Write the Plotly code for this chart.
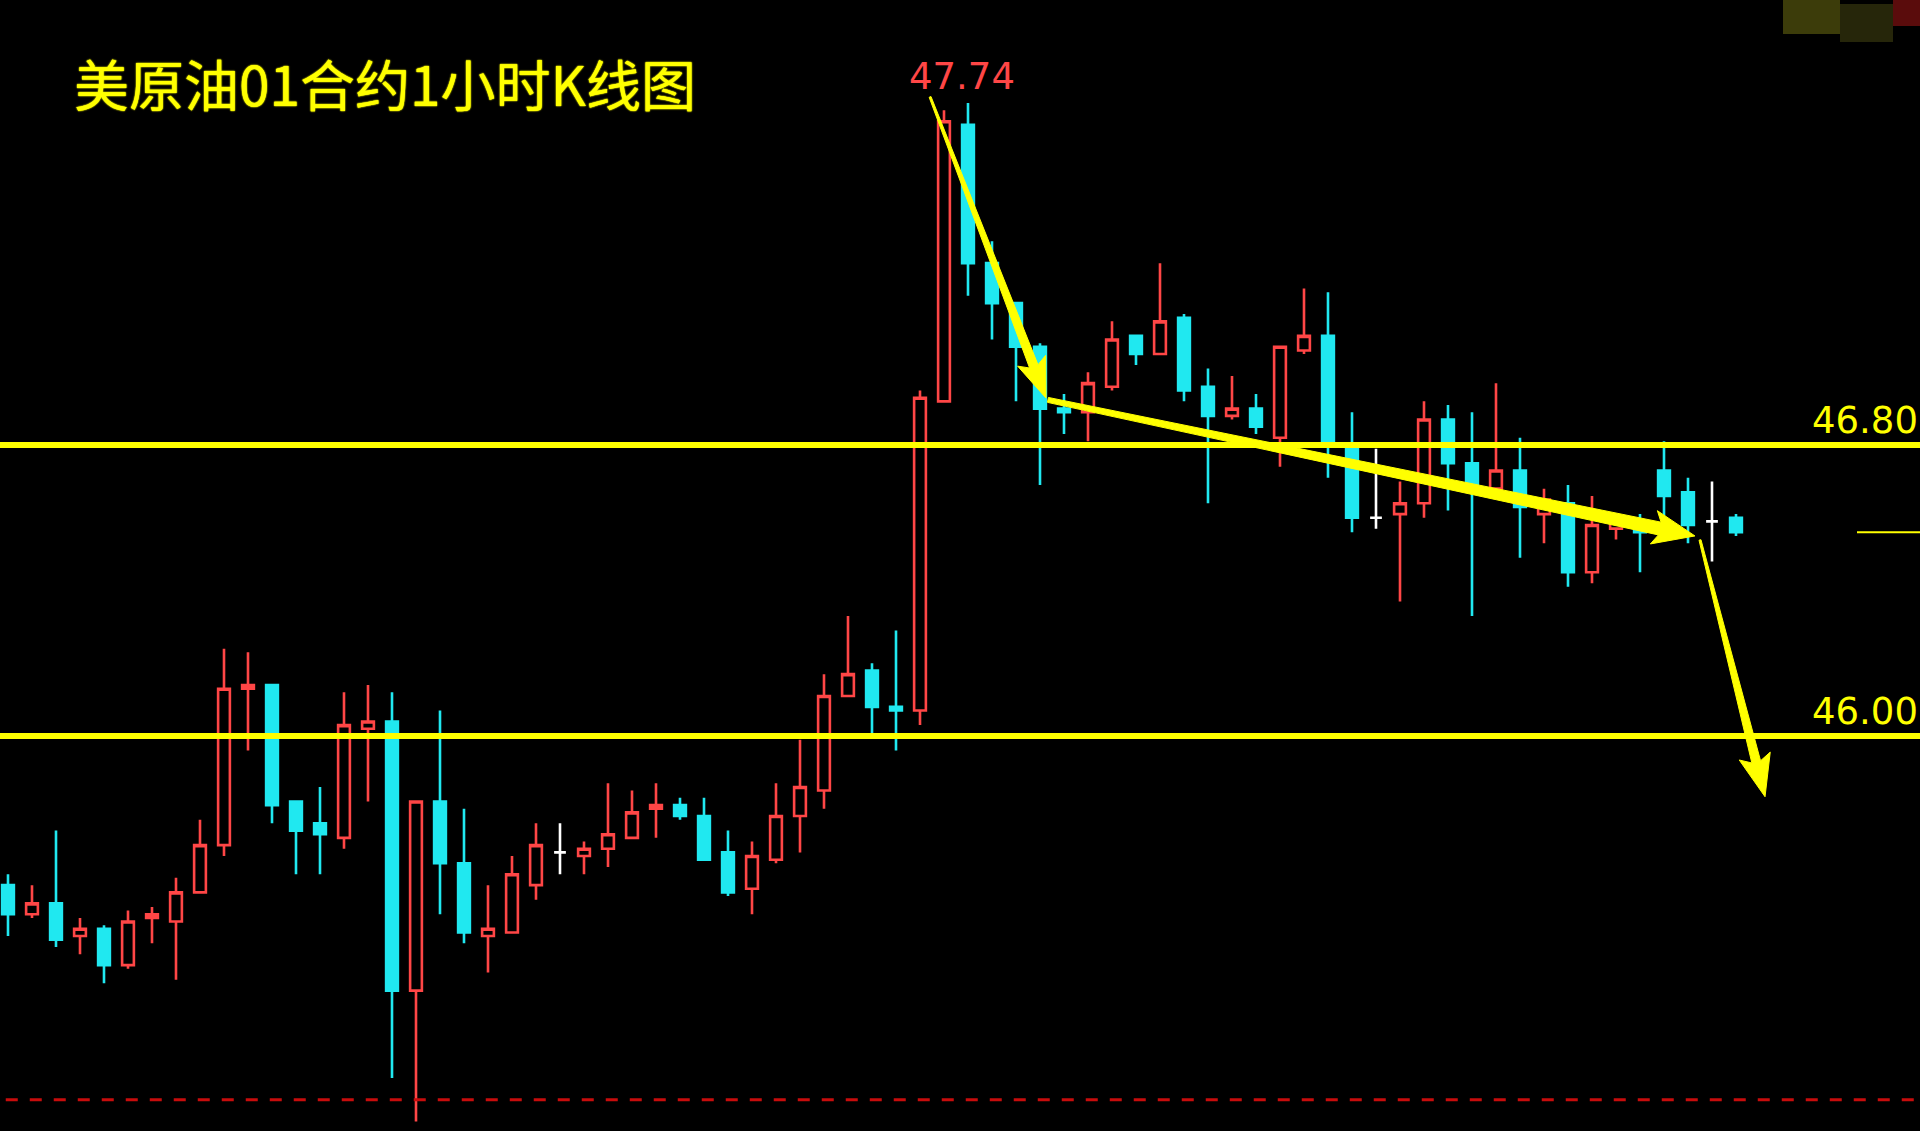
import math
import plotly.graph_objects as go

# ---- data ----
opens = [45.59, 45.51, 45.54, 45.45, 45.47, 45.37, 45.50, 45.49, 45.57, 45.70,
         46.13, 46.14, 45.82, 45.76, 45.72, 46.02, 46.04, 45.30, 45.82, 45.65,
         45.45, 45.46, 45.59, 45.68, 45.67, 45.69, 45.72, 45.80, 45.81, 45.78,
         45.68, 45.58, 45.66, 45.78, 45.85, 46.11, 46.18, 46.08, 46.07, 46.92,
         47.68, 47.30, 47.19, 47.07, 46.90, 46.89, 46.96, 47.10, 47.05, 47.15,
         46.96, 46.88, 46.90, 46.82, 47.06, 47.10, 46.80, 46.60, 46.61, 46.64,
         46.87, 46.75, 46.68, 46.73, 46.61, 46.64, 46.45, 46.57, 46.58, 46.73,
         46.67, 46.59, 46.60]
highs = [45.62, 45.59, 45.74, 45.50, 45.48, 45.52, 45.53, 45.61, 45.77, 46.24,
         46.23, 46.14, 45.82, 45.86, 46.12, 46.14, 46.12, 45.82, 46.07, 45.80,
         45.59, 45.67, 45.76, 45.76, 45.71, 45.87, 45.85, 45.87, 45.83, 45.83,
         45.74, 45.71, 45.87, 45.99, 46.17, 46.33, 46.20, 46.29, 46.95, 47.72,
         47.74, 47.36, 47.19, 47.08, 46.94, 47.00, 47.14, 47.10, 47.30, 47.16,
         47.01, 46.99, 46.94, 47.07, 47.23, 47.22, 46.89, 46.79, 46.70, 46.92,
         46.91, 46.89, 46.97, 46.82, 46.68, 46.69, 46.66, 46.61, 46.61, 46.81,
         46.71, 46.70, 46.61]
lows = [45.45, 45.50, 45.42, 45.40, 45.32, 45.36, 45.43, 45.33, 45.57, 45.67,
        45.96, 45.76, 45.62, 45.62, 45.69, 45.82, 45.06, 44.94, 45.51, 45.43,
        45.35, 45.46, 45.55, 45.62, 45.62, 45.64, 45.72, 45.72, 45.77, 45.66,
        45.56, 45.51, 45.65, 45.68, 45.80, 46.11, 46.00, 45.96, 46.03, 46.92,
        47.21, 47.09, 46.92, 46.69, 46.83, 46.81, 46.95, 47.02, 47.05, 46.92,
        46.64, 46.87, 46.83, 46.74, 47.05, 46.71, 46.56, 46.57, 46.37, 46.60,
        46.62, 46.33, 46.68, 46.49, 46.53, 46.41, 46.42, 46.54, 46.45, 46.58,
        46.53, 46.48, 46.55]
closes = [45.51, 45.54, 45.44, 45.47, 45.37, 45.49, 45.51, 45.57, 45.70, 46.13,
          46.14, 45.81, 45.74, 45.73, 46.03, 46.04, 45.30, 45.82, 45.65, 45.46,
          45.47, 45.62, 45.70, 45.68, 45.69, 45.73, 45.79, 45.81, 45.78, 45.66,
          45.57, 45.67, 45.78, 45.86, 46.11, 46.17, 46.08, 46.07, 46.93, 47.69,
          47.30, 47.19, 47.07, 46.90, 46.89, 46.97, 47.09, 47.05, 47.14, 46.95,
          46.88, 46.90, 46.85, 47.07, 47.10, 46.81, 46.60, 46.60, 46.64, 46.87,
          46.75, 46.68, 46.73, 46.63, 46.65, 46.45, 46.58, 46.59, 46.56, 46.66,
          46.58, 46.59, 46.56]
bars = list(range(len(opens)))

title_text = "美原油01合约1小时K线图"
peak_label = "47.74"
level_hi, level_lo = 46.80, 46.00
level_stop = 45.00
last_price = 46.56

# trend arrows (annotation): tail x, tail y, tip x, tip y  (bar index / price)
arrow_tails = [(38.42, 47.757), (43.33, 46.924), (70.50, 46.539)]
arrow_tips = [(43.25, 46.929), (70.29, 46.550), (73.21, 45.833)]
# style per arrow: tail width, shaft width near head, head length, head half width (px)
arrow_style = [(2, 9, 34, 15), (5, 13, 36, 17), (2, 9, 36, 16)]

RED = "#ff4646"
CYAN = "#20e8f0"
YELLOW = "#ffff00"

W, H = 1920, 1131
XR = [-1/3, 79 + 2/3]
YR = [44.9141, 48.0234]
kx = W / (XR[1] - XR[0])
ky = H / (YR[1] - YR[0])

# split candles: ordinary (red up / cyan down) and white doji
norm = [i for i in bars if opens[i] != closes[i]]
doji = [i for i in bars if opens[i] == closes[i]]

def pick(arr, idx):
    return [arr[i] for i in idx]

fig = go.Figure()
fig.add_trace(go.Candlestick(
    x=norm, open=pick(opens, norm), high=pick(highs, norm),
    low=pick(lows, norm), close=pick(closes, norm),
    increasing=dict(line=dict(color=RED, width=2.6), fillcolor="#000000"),
    decreasing=dict(line=dict(color=CYAN, width=2.6), fillcolor=CYAN),
    hoverinfo="skip", showlegend=False))
fig.add_trace(go.Candlestick(
    x=doji, open=pick(opens, doji), high=pick(highs, doji),
    low=pick(lows, doji), close=pick(closes, doji),
    increasing=dict(line=dict(color="#ffffff", width=2.6), fillcolor="#ffffff"),
    decreasing=dict(line=dict(color="#ffffff", width=2.6), fillcolor="#ffffff"),
    hoverinfo="skip", showlegend=False))

# horizontal levels
for lv in (level_hi, level_lo):
    fig.add_shape(type="line", xref="paper", x0=0, x1=1, yref="y", y0=lv, y1=lv,
                  line=dict(color=YELLOW, width=6))
fig.add_shape(type="line", xref="paper", x0=0.003, x1=1, yref="y", y0=level_stop, y1=level_stop,
              line=dict(color="#c80c0c", width=3, dash="12px,12px"))
fig.add_shape(type="line", xref="paper", x0=1857/1920, x1=1, yref="y", y0=last_price, y1=last_price,
              line=dict(color=YELLOW, width=2))

# top-right smudge
fig.add_shape(type="rect", xref="paper", yref="paper", x0=1783/1920, x1=1840/1920,
              y0=1 - 34/1131, y1=1, fillcolor="#3c3c0a", line=dict(width=0), layer="below")
fig.add_shape(type="rect", xref="paper", yref="paper", x0=1840/1920, x1=1893/1920,
              y0=1 - 42/1131, y1=1 - 4/1131, fillcolor="#26260a", line=dict(width=0), layer="below")
fig.add_shape(type="rect", xref="paper", yref="paper", x0=1893/1920, x1=1,
              y0=1 - 26/1131, y1=1, fillcolor="#5a0c0c", line=dict(width=0), layer="below")

# tapered arrows as filled polygons (computed in screen space, mapped back to data)
def to_px(x, y):
    return ((x - XR[0]) * kx, (YR[1] - y) * ky)

def to_data(px, py):
    return (px / kx + XR[0], YR[1] - py / ky)

for (tx, ty), (hx, hy), (w0, w1, hl, hw) in zip(arrow_tails, arrow_tips, arrow_style):
    T = to_px(tx, ty)
    P = to_px(hx, hy)
    L = math.hypot(P[0] - T[0], P[1] - T[1])
    d = ((P[0] - T[0]) / L, (P[1] - T[1]) / L)
    n = (-d[1], d[0])
    B = (P[0] - d[0] * hl, P[1] - d[1] * hl)
    Bb = (P[0] - d[0] * (hl + 6), P[1] - d[1] * (hl + 6))  # barbs swept back
    pts = [
        (T[0] + n[0] * w0 / 2, T[1] + n[1] * w0 / 2),
        (B[0] + n[0] * w1 / 2, B[1] + n[1] * w1 / 2),
        (Bb[0] + n[0] * hw, Bb[1] + n[1] * hw),
        P,
        (Bb[0] - n[0] * hw, Bb[1] - n[1] * hw),
        (B[0] - n[0] * w1 / 2, B[1] - n[1] * w1 / 2),
        (T[0] - n[0] * w0 / 2, T[1] - n[1] * w0 / 2),
    ]
    dpts = [to_data(*p) for p in pts]
    path = "M " + " L ".join(f"{x:.5f},{y:.5f}" for x, y in dpts) + " Z"
    fig.add_shape(type="path", xref="x", yref="y", path=path,
                  fillcolor=YELLOW, line=dict(color=YELLOW, width=1))

glow = "0px 0px 1.5px #ffff00, 0px 0px 1.5px #ffff00"
annotations = [
    dict(text=title_text, xref="paper", yref="paper", x=72/1920, y=1 - 82/1131,
         xanchor="left", yanchor="middle", showarrow=False,
         font=dict(family="Noto Sans CJK SC", size=55, color=YELLOW, shadow=glow)),
    dict(text=peak_label, xref="x", yref="y", x=39.75, y=47.812,
         xanchor="center", yanchor="middle", showarrow=False,
         font=dict(family="DejaVu Sans", size=37, color=RED)),
    dict(text=f"{level_hi:.2f}", xref="paper", yref="y", x=1, y=level_hi, yshift=25,
         xanchor="right", yanchor="middle", showarrow=False,
         font=dict(family="DejaVu Sans", size=37, color=YELLOW)),
    dict(text=f"{level_lo:.2f}", xref="paper", yref="y", x=1, y=level_lo, yshift=25,
         xanchor="right", yanchor="middle", showarrow=False,
         font=dict(family="DejaVu Sans", size=37, color=YELLOW)),
]

fig.update_layout(
    width=W, height=H,
    margin=dict(l=0, r=0, t=0, b=0),
    paper_bgcolor="#000000", plot_bgcolor="#000000",
    showlegend=False,
    annotations=annotations,
    xaxis=dict(range=XR, visible=False, rangeslider=dict(visible=False), fixedrange=True),
    yaxis=dict(range=YR, visible=False, fixedrange=True),
)

fig.write_html("out.html", config={"displayModeBar": False},
               post_script="document.body.style.margin='0';document.body.style.background='#000';document.body.style.overflow='hidden';")
